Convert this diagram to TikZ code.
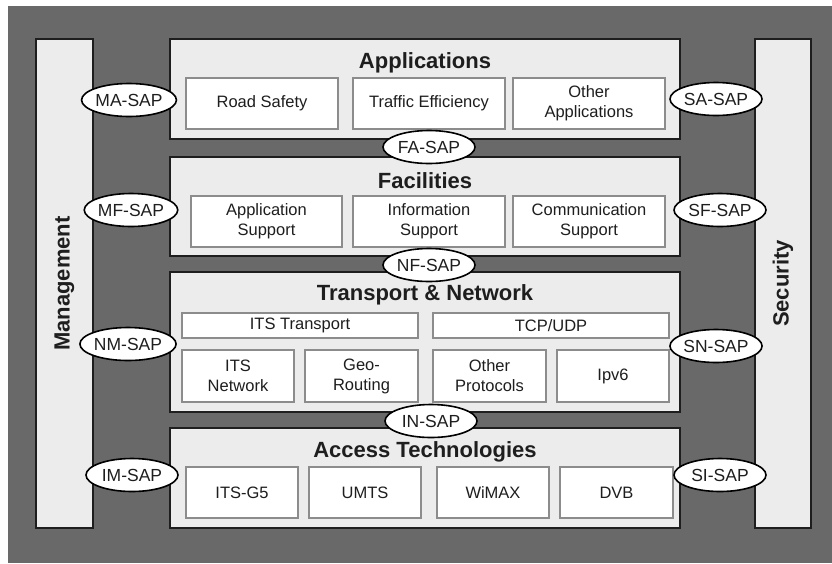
\documentclass[tikz,border=0pt]{standalone}
\usepackage{fontspec}
\setmainfont{Liberation Sans}
\usetikzlibrary{shapes.geometric}
\definecolor{bggray}{HTML}{696969}
\definecolor{layerfill}{HTML}{ECECEC}
\definecolor{innerline}{HTML}{8C8C8C}
\definecolor{txt}{HTML}{1E1E1E}
\tikzset{
  layer/.style={draw=txt, line width=2pt, fill=layerfill, rectangle, inner sep=0pt},
  inbox/.style={draw=innerline, line width=1.5pt, fill=white, rectangle, inner sep=0pt,
    align=center, text=txt, font=\fontsize{16.5}{20}\selectfont},
  ttl/.style={font=\bfseries\fontsize{22}{26}\selectfont, text=txt, inner sep=0pt},
  sidettl/.style={font=\bfseries\fontsize{22}{26}\selectfont, text=txt, inner sep=0pt, rotate=90},
  sap/.style={ellipse, draw=black, line width=1.6pt, fill=white, minimum width=92pt,
    minimum height=33pt, inner sep=0pt, text=txt, font=\fontsize{17.5}{20}\selectfont}
}
\begin{document}
\begin{tikzpicture}[x=1pt,y=-1pt]
\useasboundingbox (0,0) rectangle (832,563);
\fill[white] (0,0) rectangle (832,563);
\fill[bggray] (8,6) rectangle (832,563);
% side bars
\node[layer, minimum width=57pt, minimum height=489pt] (mgmt) at (64.5,283.5) {};
\node[layer, minimum width=56pt, minimum height=489pt] (sec) at (783,283.5) {};
\node[sidettl] (mgmtt) at (mgmt.center) {Management};
\node[sidettl] (sect) at (sec.center) {Security};
% layers
\node[layer, minimum width=510pt, minimum height=100pt] (apps) at (425,89) {};
\node[layer, minimum width=510pt, minimum height=99pt] (fac) at (425,206.5) {};
\node[layer, minimum width=510pt, minimum height=140pt] (tn) at (425,342) {};
\node[layer, minimum width=510pt, minimum height=100pt] (acc) at (425,478) {};
% titles
\node[ttl] (appst) at (425,63) {Applications};
\node[ttl] (fact) at (425,181) {Facilities};
\node[ttl] (tnt) at (425,295) {Transport \& Network};
\node[ttl] (acct) at (425,452) {Access Technologies};
% applications
\node[inbox, minimum width=152pt, minimum height=51pt] (rs) at (262,103.5) {Road Safety};
\node[inbox, minimum width=152pt, minimum height=51pt] (te) at (429,103.5) {Traffic Efficiency};
\node[inbox, minimum width=152pt, minimum height=51pt] (oa) at (589,103.5) {Other\\Applications};
% facilities
\node[inbox, minimum width=151pt, minimum height=51pt] (as) at (266.5,221.5) {Application\\Support};
\node[inbox, minimum width=152pt, minimum height=51pt] (is) at (429,221.5) {Information\\Support};
\node[inbox, minimum width=152pt, minimum height=51pt] (cs) at (589,221.5) {Communication\\Support};
% transport & network
\node[inbox, minimum width=236pt, minimum height=25pt] (itst) at (300,325.5) {ITS Transport};
\node[inbox, minimum width=236pt, minimum height=25pt] (tcp) at (551,325.5) {TCP/UDP};
\node[inbox, minimum width=112pt, minimum height=52pt] (itsn) at (238,376) {ITS\\Network};
\node[inbox, minimum width=113pt, minimum height=52pt] (geo) at (361.5,376) {Geo-\\Routing};
\node[inbox, minimum width=113pt, minimum height=52pt] (op) at (489.5,376) {Other\\Protocols};
\node[inbox, minimum width=112pt, minimum height=52pt] (ip) at (613,376) {Ipv6};
% access
\node[inbox, minimum width=112pt, minimum height=51pt] (g5) at (242,492.5) {ITS-G5};
\node[inbox, minimum width=112pt, minimum height=51pt] (umts) at (365,492.5) {UMTS};
\node[inbox, minimum width=112pt, minimum height=51pt] (wimax) at (493,492.5) {WiMAX};
\node[inbox, minimum width=113pt, minimum height=51pt] (dvb) at (616.5,492.5) {DVB};
% SAPs
\node[sap] (ma) at (129,100) {MA-SAP};
\node[sap] (mf) at (131,210) {MF-SAP};
\node[sap] (nm) at (128,344) {NM-SAP};
\node[sap] (im) at (132,475) {IM-SAP};
\node[sap] (sa) at (716,99) {SA-SAP};
\node[sap] (sf) at (720,210) {SF-SAP};
\node[sap] (sn) at (716,346) {SN-SAP};
\node[sap] (si) at (720,475) {SI-SAP};
\node[sap] (fa) at (429,147) {FA-SAP};
\node[sap] (nf) at (429,265) {NF-SAP};
\node[sap] (in) at (431,421) {IN-SAP};
\end{tikzpicture}
\end{document}
